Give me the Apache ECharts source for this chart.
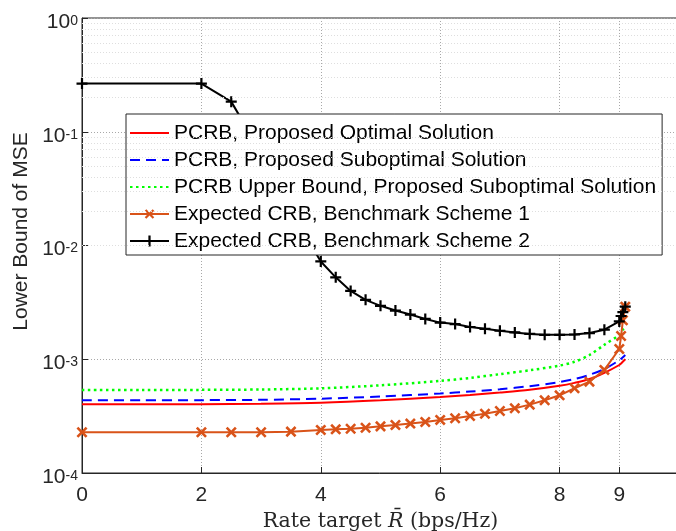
<!DOCTYPE html>
<html>
<head>
<meta charset="utf-8">
<script src="https://cdn.jsdelivr.net/npm/echarts@6/dist/echarts.min.js"></script>
<style>
html, body { margin: 0; background: #fff; }
#chart { width: 676px; height: 531px; }
</style>
</head>
<body>
<div id="chart"></div>
<script>
// rate target grid for the smooth PCRB curves
const rateSmooth = [0, 1, 2, 3, 4, 5, 6, 6.5, 7, 7.5, 8, 8.25, 8.5, 8.75, 9, 9.05, 9.1]
const pcrbOptimal = [4.02e-4, 4.02e-4, 4.03e-4, 4.06e-4, 4.14e-4, 4.35e-4, 4.66e-4, 4.85e-4, 5.1e-4, 5.4e-4, 5.85e-4, 6.2e-4, 6.7e-4, 7.6e-4, 8.9e-4, 9.4e-4, 1.0e-3]
const pcrbSubopt = [4.35e-4, 4.35e-4, 4.37e-4, 4.4e-4, 4.5e-4, 4.7e-4, 5.0e-4, 5.2e-4, 5.45e-4, 5.8e-4, 6.3e-4, 6.7e-4, 7.3e-4, 8.2e-4, 9.8e-4, 1.03e-3, 1.09e-3]
const pcrbUpper = [5.37e-4, 5.37e-4, 5.38e-4, 5.42e-4, 5.55e-4, 5.9e-4, 6.45e-4, 6.85e-4, 7.4e-4, 8.0e-4, 8.8e-4, 9.5e-4, 1.09e-3, 1.34e-3, 1.64e-3, 1.8e-3, 1.94e-3]

// rate targets of the benchmark schemes (marked points)
const rateBench = [0, 2, 2.5, 3, 3.5, 4, 4.25, 4.5, 4.75, 5, 5.25, 5.5, 5.75, 6, 6.25, 6.5, 6.75, 7, 7.25, 7.5, 7.75, 8, 8.25, 8.5, 8.75, 9, 9.03, 9.06, 9.1]
const crbBench1 = [2.28e-4, 2.28e-4, 2.28e-4, 2.28e-4, 2.31e-4, 2.39e-4, 2.42e-4, 2.45e-4, 2.5e-4, 2.57e-4, 2.64e-4, 2.72e-4, 2.81e-4, 2.93e-4, 3.03e-4, 3.17e-4, 3.32e-4, 3.51e-4, 3.71e-4, 3.99e-4, 4.36e-4, 4.82e-4, 5.56e-4, 6.35e-4, 8.06e-4, 1.23e-3, 1.6e-3, 2.2e-3, 2.9e-3]
const crbBench2 = [0.265, 0.265, 0.184, 0.065, 0.02, 0.00724, 0.00525, 0.00399, 0.00333, 0.00295, 0.00268, 0.00247, 0.00226, 0.0021, 0.00204, 0.00192, 0.00185, 0.00178, 0.00172, 0.00167, 0.00164, 0.00164, 0.00165, 0.0017, 0.00182, 0.00215, 0.0024, 0.0026, 0.0029]

const xTicks = [0, 2, 4, 6, 8, 9]
const yMinorTicks = []
for (let e = -4; e < 0; e++) {
  for (let k = 2; k <= 9; k++) yMinorTicks.push(k * Math.pow(10, e))
}

const names = [
  'PCRB, Proposed Optimal Solution',
  'PCRB, Proposed Suboptimal Solution',
  'PCRB Upper Bound, Proposed Suboptimal Solution',
  'Expected CRB, Benchmark Scheme 1',
  'Expected CRB, Benchmark Scheme 2',
]

const plus = 'path://M-2,-10H2V-2H10V2H2V10H-2V2H-10V-2H-2Z'
const axisColor = '#262626'
const zip = (xs, ys) => xs.map((x, i) => [x, ys[i]])

const chart = echarts.init(document.getElementById('chart'))
chart.setOption({
  animation: false,
  textStyle: { fontFamily: 'Liberation Sans, Arial, sans-serif' },
  grid: {
    left: 82,
    top: 18,
    width: 597,
    height: 455,
    outerBoundsMode: 'none',
    containLabel: false,
    show: true,
    borderColor: axisColor,
    borderWidth: 1,
  },
  legend: {
    // plain lines for the first three entries, line + marker for the benchmarks
    data: names.map((n, i) => (i < 3 ? { name: n, itemStyle: { opacity: 0 } } : n)),
    orient: 'vertical',
    left: 126,
    top: 114,
    padding: [8, 6, 3, 3],
    itemGap: 5,
    itemWidth: 39,
    itemHeight: 14,
    itemTextGap: 4,
    backgroundColor: '#fff',
    borderColor: axisColor,
    borderWidth: 1,
    textStyle: {
      color: '#000',
      fontSize: 21,
      lineHeight: 22,
    },
  },
  xAxis: {
    type: 'value',
    min: 0,
    max: 10,
    name: '{n|Rate target }{i|R\u0304}{n| (bps/Hz)}',
    nameLocation: 'middle',
    nameGap: 32,
    nameTextStyle: {
      rich: {
        n: { fontFamily: 'DejaVu Serif, serif', fontSize: 20.5, color: '#262626' },
        i: { fontFamily: 'DejaVu Serif, serif', fontSize: 20.5, fontStyle: 'italic', color: '#262626' },
      },
    },
    axisLine: { lineStyle: { color: axisColor, width: 1 } },
    axisTick: { inside: true, length: 6, customValues: xTicks, lineStyle: { color: axisColor } },
    axisLabel: { customValues: xTicks, color: axisColor, fontSize: 21, margin: 12 },
    splitLine: { show: true, lineStyle: { color: '#a8a8a8', type: [1, 2], width: 1 } },
  },
  yAxis: {
    type: 'log',
    logBase: 10,
    min: 1e-4,
    max: 1,
    name: 'Lower Bound of MSE',
    nameLocation: 'middle',
    nameGap: 50,
    nameTextStyle: { color: axisColor, fontSize: 21, padding: [0, 0, 0, 28] },
    axisLine: { show: true, lineStyle: { color: axisColor, width: 1 } },
    axisTick: { inside: true, length: 6, lineStyle: { color: axisColor } },
    axisLabel: {
      margin: 4,
      formatter: v => '{b|10}{s|' + Math.round(Math.log10(v)) + '}',
      rich: {
        b: { fontSize: 21, lineHeight: 20, padding: [8, 0, 0, 0], color: axisColor },
        s: { fontSize: 14, lineHeight: 8, padding: [6, 0, 0, 0], verticalAlign: 'top', color: axisColor },
      },
    },
    splitLine: { show: true, lineStyle: { color: '#a8a8a8', type: [1, 2], width: 1 } },
  },
  series: [
    {
      // minor log grid lines
      type: 'line',
      data: [],
      z: 1,
      markLine: {
        silent: true,
        symbol: ['none', 'none'],
        label: { show: false },
        lineStyle: { color: '#dedede', type: [1, 2], width: 1 },
        data: yMinorTicks.map(v => ({ yAxis: v })),
      },
    },
    {
      name: names[0],
      type: 'line',
      data: zip(rateSmooth, pcrbOptimal),
      smooth: 0.3,
      showSymbol: false,
      symbol: 'none',
      lineStyle: { color: '#ff0000', width: 2 },
      itemStyle: { color: '#ff0000' },
      z: 3,
    },
    {
      name: names[1],
      type: 'line',
      data: zip(rateSmooth, pcrbSubopt),
      smooth: 0.3,
      showSymbol: false,
      symbol: 'none',
      lineStyle: { color: '#0000ff', width: 2, type: [10, 6] },
      itemStyle: { color: '#0000ff' },
      z: 3,
    },
    {
      name: names[2],
      type: 'line',
      data: zip(rateSmooth, pcrbUpper),
      smooth: 0.3,
      showSymbol: false,
      symbol: 'none',
      lineStyle: { color: '#00ff00', width: 2.5, type: [2.5, 3.5] },
      itemStyle: { color: '#00ff00' },
      z: 3,
    },
    {
      name: names[3],
      type: 'line',
      data: zip(rateBench, crbBench1),
      symbol: plus,
      symbolSize: 13,
      symbolRotate: 45,
      lineStyle: { color: '#d95319', width: 2 },
      itemStyle: { color: '#d95319' },
      z: 3,
    },
    {
      name: names[4],
      type: 'line',
      data: zip(rateBench, crbBench2),
      symbol: plus,
      symbolSize: 11,
      lineStyle: { color: '#000', width: 2 },
      itemStyle: { color: '#000' },
      z: 3,
    },
  ],
})
</script>
</body>
</html>
